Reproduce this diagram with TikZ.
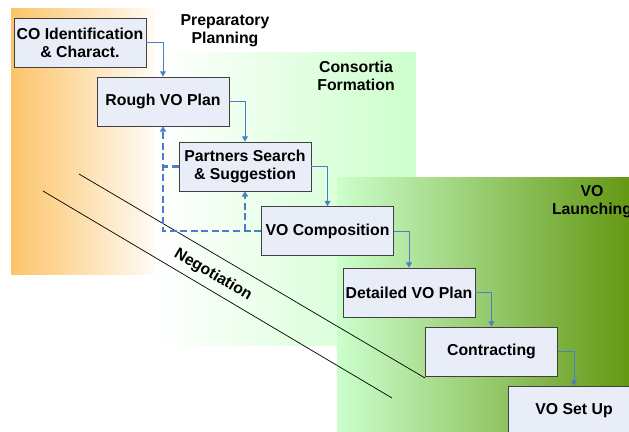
\documentclass[tikz,border=0pt]{standalone}
\usepackage{fontspec}
\setmainfont{Liberation Sans}
\usetikzlibrary{arrows.meta}

\definecolor{stagefill}{RGB}{232,237,248}
\definecolor{linkblue}{RGB}{74,126,200}
\definecolor{prepcol}{RGB}{252,196,104}
\definecolor{formcol}{RGB}{204,255,204}
\definecolor{launchcol}{RGB}{100,152,20}

\tikzset{
    stage/.style={draw=black!75, line width=0.7pt, fill=stagefill,
        minimum width=3.96cm, minimum height=1.47cm, inner sep=1pt,
        font=\bfseries\fontsize{13.5}{15.5}\selectfont, align=center},
    phase/.style={font=\bfseries\fontsize{13.5}{15.5}\selectfont, align=center},
    flow/.style={linkblue, line width=0.8pt, -{Triangle[length=4.5pt,width=5pt]}},
    back/.style={linkblue, line width=1.8pt, dash pattern=on 6pt off 3pt},
}

\begin{document}
\begin{tikzpicture}[x=0.03cm, y=-0.03cm]
    \clip (0,0) rectangle (629,432);
    \fill[white] (0,0) rectangle (629,432);

    % Preparatory planning
    \shade[left color=prepcol, right color=prepcol!6] (11,9) rectangle (155,274);
    \node[phase] (prep) at (225,31) {Preparatory\\Planning};

    % Consortia formation
    \shade[left color=white, right color=formcol] (155,53) rectangle (416,345);
    \node[phase] (form) at (356,76) {Consortia\\Formation};

    % VO launching
    \shade[left color=formcol, right color=launchcol] (337,178) rectangle (629,432);
    \node[phase] (launch) at (592,202) {VO\\Launching};

    % Negotiation band
    \draw[line width=0.6pt] (79,174) -- (425,378);
    \draw[line width=0.6pt] (43,191) -- (392,398);
    \node[phase, rotate=-30.5] (nego) at (213,275) {Negotiation};

    % stages
    \node[stage] (co) at (80,42.5) {CO Identification\\\& Charact.};
    \node[stage] (rough) at (163,101.5) {Rough VO Plan};
    \node[stage] (partners) at (245,166.5) {Partners Search\\\& Suggestion};
    \node[stage] (comp) at (327.5,231) {VO Composition};
    \node[stage] (detail) at (409,292.5) {Detailed VO Plan};
    \node[stage] (contract) at (491.5,351.5) {Contracting};
    \node[stage] (setup) at (574,410.5) {VO Set Up};

    % forward flow
    \draw[flow] (co.east) -| (rough.north);
    \draw[flow] (rough.east) -| (partners.north);
    \draw[flow] (partners.east) -| (comp.north);
    \draw[flow] (comp.east) -| (detail.north);
    \draw[flow] (detail.east) -| (contract.north);
    \draw[flow] (contract.east) -| (setup.north);

    % feedback loops
    \coordinate (fork) at (comp.west -| partners.south);
    \draw[back, -{Triangle[length=4.5pt,width=5.5pt]}] (comp.west) -| (rough.south);
    \draw[back, -{Triangle[length=4.5pt,width=5.5pt]}] (fork) -- (partners.south);
    \draw[back] (partners.west) -- (partners.west -| rough.south);
\end{tikzpicture}
\end{document}
